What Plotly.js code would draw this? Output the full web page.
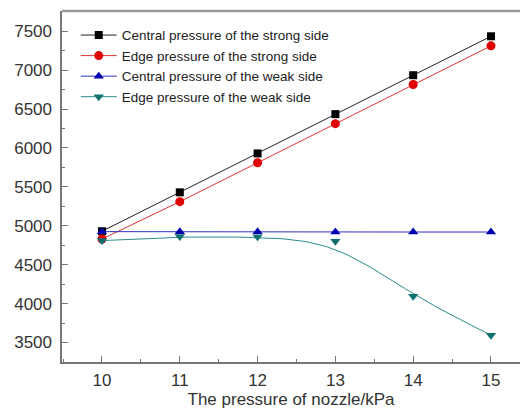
<!DOCTYPE html>
<html>
<head>
<meta charset="utf-8">
<script src="https://cdn.plot.ly/plotly-3.0.1.min.js"></script>
<style>html,body{margin:0;padding:0;background:#fff;overflow:hidden;width:520px;height:412px;}#chart{position:absolute;left:0;top:0;width:520px;height:412px;}</style>
</head>
<body>
<div id="chart"></div>
<script>
const nozzle = [10, 11, 12, 13, 14, 15];
const centralStrong = [4930, 5430, 5930, 6435, 6935, 7435];
const edgeStrong = [4830, 5310, 5810, 6312, 6815, 7312];
const centralWeak = [4925, 4922, 4922, 4920, 4920, 4920];
const edgeWeak = [4810, 4862, 4858, 4800, 4095, 3595];
const seriesNames = ["Central pressure of the strong side", "Edge pressure of the strong side", "Central pressure of the weak side", "Edge pressure of the weak side"];

// Smoothed (cubic B-spline, clamped) path for the weak-side edge series, computed from its data
function bspline(xs, ys, steps) {
  const px = [xs[0], xs[0], ...xs, xs[xs.length - 1], xs[xs.length - 1]];
  const py = [ys[0], ys[0], ...ys, ys[ys.length - 1], ys[ys.length - 1]];
  const ox = [], oy = [];
  for (let i = 0; i < px.length - 3; i++) {
    for (let s = 0; s <= steps; s++) {
      if (s === steps && i < px.length - 4) continue;
      const t = s / steps, t2 = t * t, t3 = t2 * t;
      const b0 = (1 - t) ** 3 / 6, b1 = (3 * t3 - 6 * t2 + 4) / 6, b2 = (-3 * t3 + 3 * t2 + 3 * t + 1) / 6, b3 = t3 / 6;
      ox.push(b0 * px[i] + b1 * px[i + 1] + b2 * px[i + 2] + b3 * px[i + 3]);
      oy.push(b0 * py[i] + b1 * py[i + 1] + b2 * py[i + 2] + b3 * py[i + 3]);
    }
  }
  return {x: ox, y: oy};
}
const smooth = bspline(nozzle, edgeWeak, 20);

const teal = '#2a8c8c';
const traces = [
  {x: nozzle, y: centralStrong, name: seriesNames[0], mode: 'lines+markers',
   line: {color: '#222222', width: 1}, marker: {symbol: 'square', size: 8, color: '#000000'}},
  {x: nozzle, y: edgeStrong, name: seriesNames[1], mode: 'lines+markers',
   line: {color: '#e03030', width: 1}, marker: {symbol: 'circle', size: 9, color: '#e00000'}},
  {x: nozzle, y: centralWeak, name: seriesNames[2], mode: 'lines+markers',
   line: {color: '#3030c0', width: 1}, marker: {symbol: 'triangle-up', size: 9, color: '#0000b0'}},
  {x: smooth.x, y: smooth.y, name: seriesNames[3], mode: 'lines', legendgroup: 'ew', showlegend: false,
   line: {color: teal, width: 1}},
  {x: nozzle, y: edgeWeak, name: seriesNames[3], mode: 'markers', legendgroup: 'ew', showlegend: false,
   marker: {symbol: 'triangle-down', size: 9, color: '#107070'}},
  {x: [null], y: [null], name: seriesNames[3], mode: 'lines+markers', legendgroup: 'ew',
   line: {color: teal, width: 1}, marker: {symbol: 'triangle-down', size: 9, color: '#107070'}}
];

const tickFont = {family: 'Liberation Sans, Arial, sans-serif', size: 17, color: '#333'};
const axisCommon = {
  showgrid: false, zeroline: false, showline: true, linecolor: '#777', linewidth: 1.6,
  ticks: 'inside', ticklen: 6, tickcolor: '#777', tickwidth: 1, tickfont: tickFont
};

const layout = {
  width: 520, height: 412,
  margin: {l: 62, r: 0, t: 11, b: 50, autoexpand: false},
  paper_bgcolor: '#fff', plot_bgcolor: '#fff',
  showlegend: true,
  legend: {x: 0.03, y: 0.975, xanchor: 'left', yanchor: 'top', bgcolor: 'rgba(0,0,0,0)',
    font: {family: 'Liberation Sans, Arial, sans-serif', size: 13.5, color: '#222'},
    tracegroupgap: 0, itemwidth: 36, traceorder: 'normal'},
  shapes: [{type: 'line', xref: 'paper', yref: 'paper', x0: 0, x1: 1, y0: 1, y1: 1,
    line: {color: '#999', width: 2.5}}],
  xaxis: Object.assign({}, axisCommon, {
    range: [9.486, 15.373], tickmode: 'array', tickvals: nozzle, mirror: false, automargin: false,
    ticklabelstandoff: 2,
    minor: {ticks: 'inside', dtick: 0.5, ticklen: 3, tickcolor: '#777'},
    title: {text: 'The pressure of nozzle/kPa', standoff: 4,
      font: {family: 'Liberation Sans, Arial, sans-serif', size: 17, color: '#333'}}
  }),
  yaxis: Object.assign({}, axisCommon, {
    range: [3250, 7760], tickmode: 'linear', tick0: 3500, dtick: 500, mirror: false, automargin: false,
    ticklabelstandoff: 5,
    minor: {ticks: 'inside', dtick: 250, ticklen: 3, tickcolor: '#777'}
  })
};

Plotly.newPlot('chart', traces, layout, {staticPlot: true, displayModeBar: false});
</script>
</body>
</html>
